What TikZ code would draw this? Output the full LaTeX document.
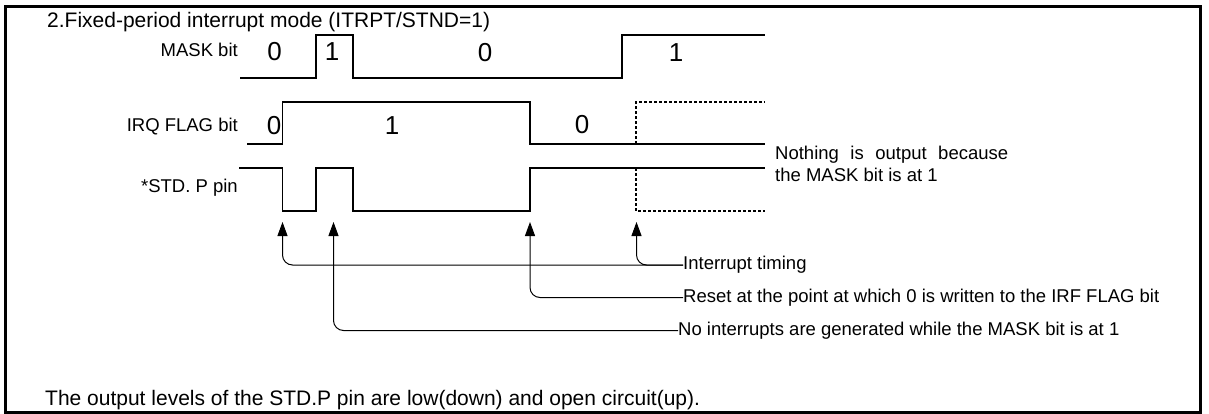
\documentclass[tikz,border=0pt]{standalone}
\usepackage{fontspec}
\setmainfont{Liberation Sans}
\usetikzlibrary{arrows.meta}
\begin{document}
\begin{tikzpicture}[x=1pt,y=-1pt,
  wave/.style={line width=1.1pt, line join=miter},
  dwave/.style={wave, dash pattern=on 3pt off 2pt},
  lbl/.style={font=\fontsize{18.5}{22}\selectfont, inner sep=0pt},
  lvl/.style={font=\fontsize{26}{30}\selectfont, inner sep=0pt, anchor=base},
  ttl/.style={font=\fontsize{21}{25}\selectfont, inner sep=0pt},
  arr/.style={line width=1pt, rounded corners=10pt, -{Triangle[length=14pt,width=10pt]}},
]
\useasboundingbox (0,0) rectangle (1209,414);
\draw[line width=3pt] (5,6.5) rectangle (1200.5,412.5);

\node[ttl, anchor=base west] (title) at (47,28) {2.Fixed-period interrupt mode (ITRPT/STND=1)};

\node[lbl, anchor=base east] (mask) at (238,56.5) {MASK bit};
\node[lbl, anchor=base east] (irq) at (238,131.5) {IRQ FLAG bit};
\node[lbl, anchor=base east] (std) at (238,192.5) {*STD. P pin};

% waveforms
\draw[wave] (240,78) -- (316,78) -- (316,35) -- (353,35) -- (353,78) -- (622,78) -- (622,35) -- (765,35);
\draw[wave] (247,144) -- (282.5,144) -- (282.5,102) -- (530,102) -- (530,144) -- (765,144);
\draw[dwave] (636,144) -- (636,102) -- (765,102);
\draw[wave] (239,168) -- (282.5,168) -- (282.5,211) -- (316,211) -- (316,168) -- (353,168) -- (353,211) -- (530,211) -- (530,168) -- (765,168);
\draw[dwave] (636,168) -- (636,211) -- (765,211);

% level digits
\node[lvl] (m0) at (274.5,61) {0};
\node[lvl] (m1) at (332,61) {1};
\node[lvl] (m2) at (485,61.5) {0};
\node[lvl] (m3) at (676,61.5) {1};
\node[lvl] (q0) at (274,134.5) {0};
\node[lvl] (q1) at (392,134.5) {1};
\node[lvl] (q2) at (582,133.5) {0};

\node[lbl, anchor=base west] (n1) at (775,160) {\hbox to 233pt{Nothing\hfill is\hfill output\hfill because}};
\node[lbl, anchor=base west] (n2) at (775,181.5) {the MASK bit is at 1};

% arrow tips
\coordinate (t1) at (282.5,222);
\coordinate (t2) at (333.5,222);
\coordinate (t3) at (530,222);
\coordinate (t4) at (636.5,222);

\node[lbl, anchor=west] (it) at (683,265) {Interrupt timing};
\node[lbl, anchor=west] (rs) at (683,297.5) {Reset at the point at which 0 is written to the IRF FLAG bit};
\node[lbl, anchor=west] (ni) at (678,330.5) {No interrupts are generated while the MASK bit is at 1};

\draw[arr] (it.west) -| (t1);
\draw[arr] (it.west) -| (t4);
\draw[arr] (rs.west) -| (t3);
\draw[arr] (ni.west) -| (t2);

\node[ttl, anchor=base west] (note) at (45,405) {The output levels of the STD.P pin are low(down) and open circuit(up).};
\end{tikzpicture}
\end{document}
